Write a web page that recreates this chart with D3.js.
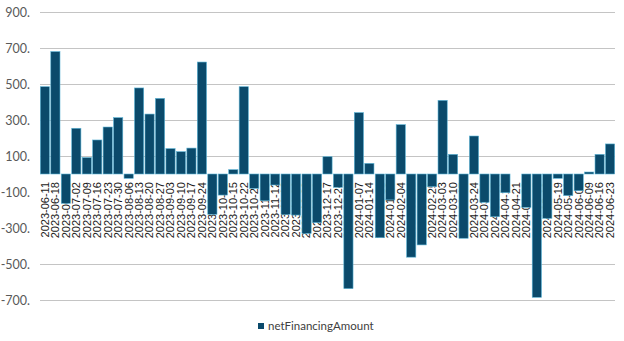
<!DOCTYPE html>
<html>
<head>
<meta charset="utf-8">
<script src="https://cdn.jsdelivr.net/npm/d3@7/dist/d3.min.js"></script>
<style>
  body { margin: 0; background: #fff; }
  svg { display: block; }
</style>
</head>
<body>
<svg></svg>
<script>
// weekly dates and net financing amounts
var weeks = ["2023-06-11","2023-06-18","2023-06-25","2023-07-02","2023-07-09","2023-07-16","2023-07-23","2023-07-30",
  "2023-08-06","2023-08-13","2023-08-20","2023-08-27","2023-09-03","2023-09-10","2023-09-17","2023-09-24",
  "2023-10-01","2023-10-08","2023-10-15","2023-10-22","2023-10-29","2023-11-05","2023-11-12","2023-11-19",
  "2023-11-26","2023-12-03","2023-12-10","2023-12-17","2023-12-24","2023-12-31","2024-01-07","2024-01-14",
  "2024-01-21","2024-01-28","2024-02-04","2024-02-11","2024-02-18","2024-02-25","2024-03-03","2024-03-10",
  "2024-03-17","2024-03-24","2024-03-31","2024-04-07","2024-04-14","2024-04-21","2024-04-28","2024-05-05",
  "2024-05-12","2024-05-19","2024-05-26","2024-06-02","2024-06-09","2024-06-16","2024-06-23"];
var netFinancingAmount = [485, 680, -163, 254, 91, 189, 261, 313,
  -24, 478, 333, 420, 141, 124, 144, 622,
  -224, -117, 24, 485, -80, -148, -61, -224,
  -228, -330, -270, 96, -74, -637, 341, 59,
  -354, -144, 274, -462, -394, -70, 409, 109,
  -357, 211, -157, -237, -104, 0, -185, -685,
  -246, -24, -120, -93, 11, 109, 167];
var yTicks = [900, 700, 500, 300, 100, -100, -300, -500, -700];
var seriesName = "netFinancingAmount";

var svgWidth = 624, svgHeight = 341;
var svg = d3.select("svg").attr("width", svgWidth).attr("height", svgHeight);

var x = d3.scaleBand().domain(weeks).range([40, 615]).paddingInner(0.12).paddingOuter(0.03);
var y = d3.scaleLinear().domain([-700, 900]).range([300, 12]);

// gridlines
svg.selectAll("line.grid")
  .data(yTicks)
  .enter()
  .append("line")
  .attr("class", "grid")
  .attr("x1", 40).attr("x2", 615)
  .attr("y1", function (d) { return Math.round(y(d)) + 0.5; })
  .attr("y2", function (d) { return Math.round(y(d)) + 0.5; })
  .attr("stroke", "#c4c4c4")
  .attr("stroke-width", 1);

// label area hides the gridlines behind it
svg.append("rect")
  .attr("x", 38).attr("y", y(0) + 2)
  .attr("width", 580).attr("height", 64)
  .attr("fill", "#fff");

// y axis labels
var yAxis = d3.axisLeft(y).tickValues(yTicks).tickSize(0).tickPadding(0)
  .tickFormat(function (d) { return d + "."; });
var gy = svg.append("g").attr("transform", "translate(30,0)").call(yAxis);
gy.select(".domain").remove();
gy.selectAll("text")
  .attr("font-family", "Lato, 'Open Sans', sans-serif")
  .attr("font-size", "12.5px")
  .attr("fill", "#595959");

// category labels, rotated, reading upwards
var xAxis = d3.axisBottom(x).tickSize(0).tickPadding(0);
var gx = svg.append("g").attr("transform", "translate(0," + (y(0) + 8) + ")").call(xAxis);
gx.select(".domain").remove();
gx.selectAll("text")
  .attr("font-family", "'Liberation Sans', Arial, sans-serif")
  .attr("font-size", "11px")
  .attr("fill", "#1a1a1a")
  .attr("text-anchor", "end")
  .attr("y", 0)
  .attr("dy", "0.35em")
  .attr("transform", "rotate(-90)");

// bars (drawn over the labels)
svg.selectAll("rect.bar")
  .data(netFinancingAmount)
  .enter()
  .append("rect")
  .attr("class", "bar")
  .attr("x", function (d, i) { return x(weeks[i]); })
  .attr("width", x.bandwidth())
  .attr("y", function (d) { return y(Math.max(0, d)); })
  .attr("height", function (d) { return Math.abs(y(d) - y(0)); })
  .attr("fill", "#0b4a6b")
  .attr("stroke", "#5ab4d6")
  .attr("stroke-width", 0.6);

// legend
var legend = svg.append("g").attr("transform", "translate(258,326)");
legend.append("rect")
  .attr("x", 0).attr("y", -3)
  .attr("width", 6).attr("height", 6)
  .attr("fill", "#0b4a6b");
legend.append("text")
  .attr("x", 10).attr("y", 0)
  .attr("dy", "0.35em")
  .attr("font-family", "Lato, 'Open Sans', sans-serif")
  .attr("font-size", "11.5px")
  .attr("fill", "#404040")
  .text(seriesName);
</script>
</body>
</html>
